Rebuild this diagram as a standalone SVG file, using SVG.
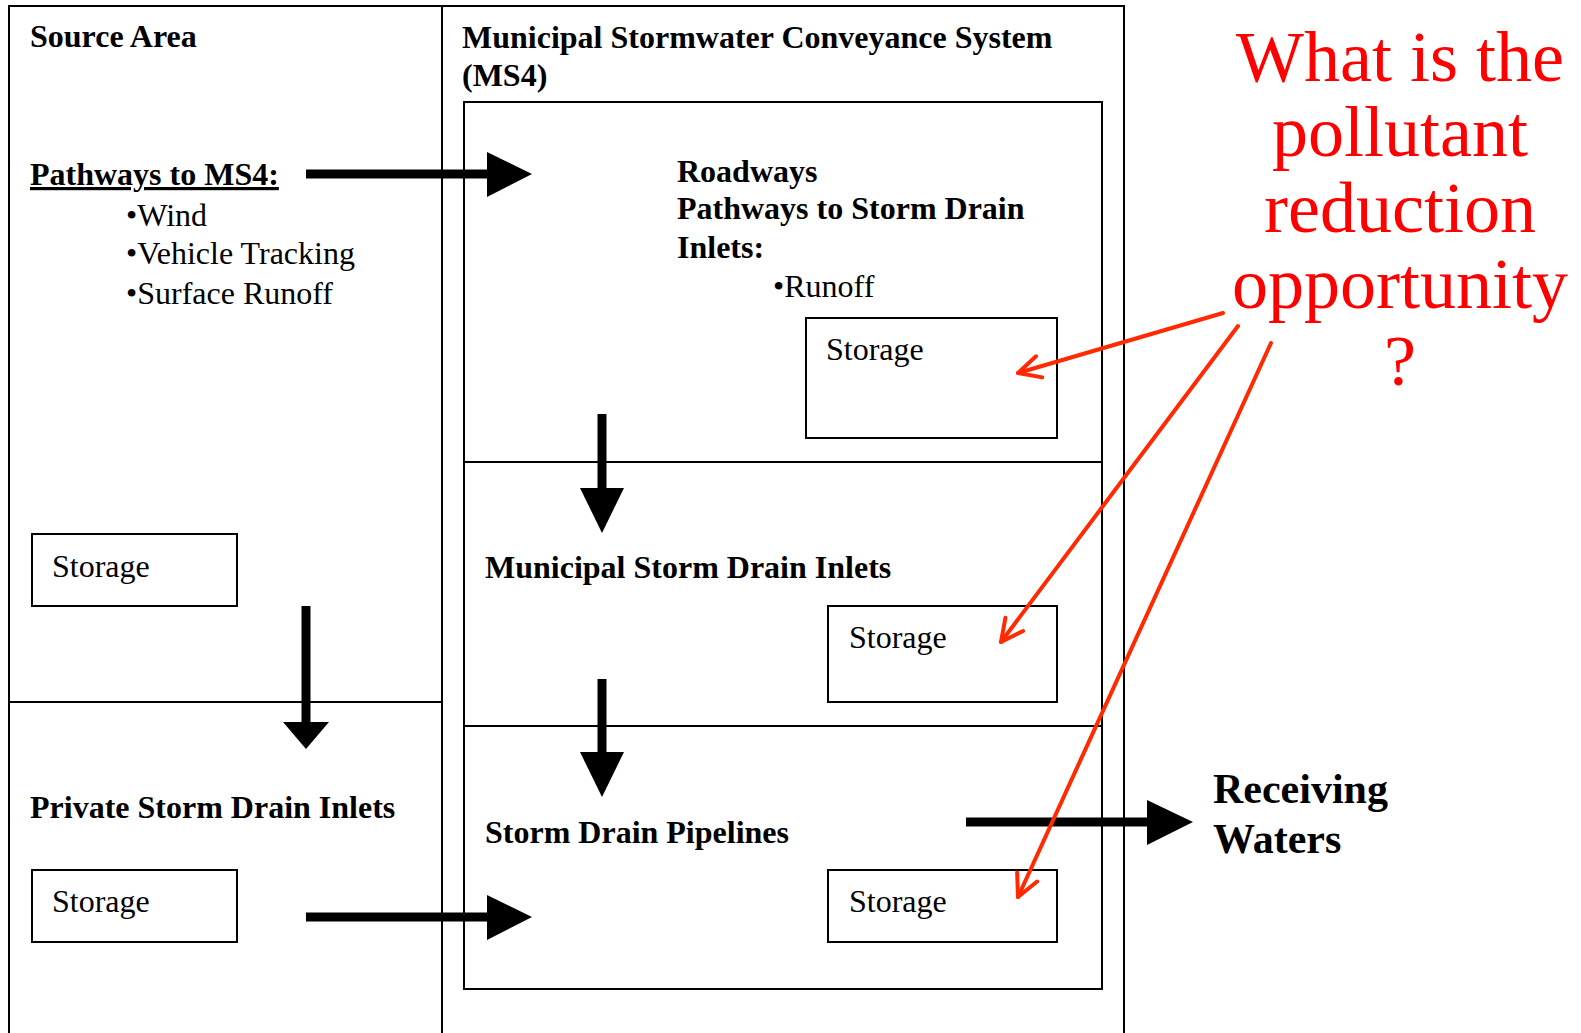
<svg xmlns="http://www.w3.org/2000/svg" width="1581" height="1033" viewBox="0 0 1581 1033">
<style>
.frame{fill:none;stroke:#000;stroke-width:2}
.box{fill:#fff;stroke:#000;stroke-width:2}
.b{font-family:"Liberation Serif","Times New Roman",serif;font-weight:bold;font-size:32px;fill:#000}
.r{font-family:"Liberation Serif","Times New Roman",serif;font-size:32px;fill:#000}
.q{font-family:"Liberation Serif","Times New Roman",serif;font-size:72px;fill:#ff0000;text-anchor:middle}
.shaft{stroke:#000;stroke-width:9;fill:none}
.head{fill:#000}
.red{stroke:#ff2a00;stroke-width:4;fill:none;stroke-linecap:round}
</style>
<defs>
<marker id="vee" markerUnits="userSpaceOnUse" markerWidth="30" markerHeight="30" viewBox="0 0 30 30" refX="26" refY="15" orient="auto">
<path d="M4,4 L26,15 L4,26" fill="none" stroke="#ff2a00" stroke-width="4" stroke-linecap="round" stroke-linejoin="round"/>
</marker>
</defs>
<rect width="1581" height="1033" fill="#fff"/>
<g id="source-area">
<path class="frame" d="M9,1033 V6 H1124 V1033 M442,6 V1033 M9,702 H442"/>
<text class="b" x="30" y="47">Source Area</text>
<text class="b" x="30" y="185" text-decoration="underline">Pathways to MS4:</text>
<text class="r" x="126" y="226">•Wind</text>
<text class="r" x="126" y="264">•Vehicle Tracking</text>
<text class="r" x="126" y="304">•Surface Runoff</text>
</g>
<g id="source-storage">
<rect class="box" x="32" y="534" width="205" height="72"/>
<text class="r" x="52" y="577">Storage</text>
</g>
<g id="private-inlets">
<text class="b" x="30" y="818">Private Storm Drain Inlets</text>
</g>
<g id="private-storage">
<rect class="box" x="32" y="870" width="205" height="72"/>
<text class="r" x="52" y="912">Storage</text>
</g>
<g id="ms4">
<text class="b" x="462" y="48">Municipal Stormwater Conveyance System</text>
<text class="b" x="462" y="86">(MS4)</text>
<path class="frame" d="M464,102 H1102 V989 H464 Z M464,462 H1102 M464,726 H1102"/>
</g>
<g id="roadways">
<text class="b" x="677" y="182">Roadways</text>
<text class="b" x="677" y="219">Pathways to Storm Drain</text>
<text class="b" x="677" y="258">Inlets:</text>
<text class="r" x="773" y="297">•Runoff</text>
</g>
<g id="roadways-storage">
<rect class="box" x="806" y="318" width="251" height="120"/>
<text class="r" x="826" y="360">Storage</text>
</g>
<g id="municipal-inlets">
<text class="b" x="485" y="578">Municipal Storm Drain Inlets</text>
</g>
<g id="inlets-storage">
<rect class="box" x="828" y="606" width="229" height="96"/>
<text class="r" x="849" y="648">Storage</text>
</g>
<g id="pipelines">
<text class="b" x="485" y="843">Storm Drain Pipelines</text>
</g>
<g id="pipelines-storage">
<rect class="box" x="828" y="870" width="229" height="72"/>
<text class="r" x="849" y="912">Storage</text>
</g>
<g id="receiving-waters">
<text class="b" x="1213" y="803" style="font-size:42px">Receiving</text>
<text class="b" x="1213" y="853" style="font-size:42px">Waters</text>
</g>
<g id="question">
<text class="q" x="1400" y="81">What is the</text>
<text class="q" x="1400" y="156">pollutant</text>
<text class="q" x="1400" y="232">reduction</text>
<text class="q" x="1400" y="308">opportunity</text>
<text class="q" x="1400" y="385">?</text>
</g>
<g id="connectors">
<line class="shaft" x1="306" y1="174" x2="490" y2="174"/>
<polygon class="head" points="487,152 532,174 487,197"/>
<line class="shaft" x1="602" y1="414" x2="602" y2="490"/>
<polygon class="head" points="580,488 624,488 602,533"/>
<line class="shaft" x1="602" y1="679" x2="602" y2="754"/>
<polygon class="head" points="580,752 624,752 602,797"/>
<line class="shaft" x1="306" y1="606" x2="306" y2="724"/>
<polygon class="head" points="283,722 329,722 306,749"/>
<line class="shaft" x1="306" y1="917" x2="490" y2="917"/>
<polygon class="head" points="487,895 532,917 487,940"/>
<line class="shaft" x1="966" y1="822" x2="1150" y2="822"/>
<polygon class="head" points="1147,800 1193,822 1147,845"/>
<line class="red" x1="1223" y1="313" x2="1018" y2="373" marker-end="url(#vee)"/>
<line class="red" x1="1238" y1="326" x2="1001" y2="642" marker-end="url(#vee)"/>
<line class="red" x1="1271" y1="343" x2="1018" y2="897" marker-end="url(#vee)"/>
</g>
</svg>
